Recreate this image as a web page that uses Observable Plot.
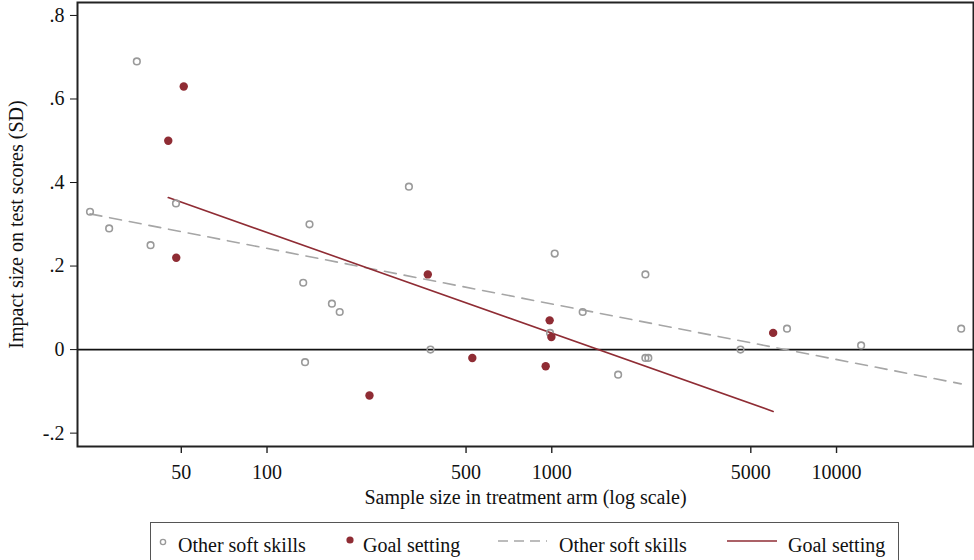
<!DOCTYPE html>
<html>
<head>
<meta charset="utf-8">
<script src="https://cdn.jsdelivr.net/npm/d3@7"></script>
<script src="https://cdn.jsdelivr.net/npm/@observablehq/plot@0.6"></script>
<style>
  body { margin: 0; background: #fff; font-family: "Liberation Serif", serif; }
  #wrap { position: relative; width: 974px; height: 560px; overflow: hidden; }
  #legend { position: absolute; left: 150px; top: 522px; width: 749px; height: 50px;
            border: 1.5px solid #555; box-sizing: border-box; }
  .li { position: absolute; top: 10px; font-size: 20px; line-height: 24px; color: #111; white-space: nowrap; }
  .sw { position: absolute; top: 10px; }
</style>
</head>
<body>
<div id="wrap"></div>
<script>
// Other soft skills: sample size in treatment arm, impact (SD)
const otherN = [23.9, 27.9, 34.9, 39.0, 47.9, 141, 134, 136, 169, 180, 315, 375, 1024, 986, 1284, 2132, 1710, 2132, 2183, 4600, 6700, 12200, 27400];
const otherEffect = [0.33, 0.29, 0.69, 0.25, 0.35, 0.30, 0.16, -0.03, 0.11, 0.09, 0.39, 0.00, 0.23, 0.04, 0.09, 0.18, -0.06, -0.02, -0.02, 0.00, 0.05, 0.01, 0.05];
// Goal setting
const goalN = [51, 45, 48, 367, 229, 526, 952, 983, 997, 5990];
const goalEffect = [0.63, 0.50, 0.22, 0.18, -0.11, -0.02, -0.04, 0.07, 0.03, 0.04];
// Fitted lines (endpoints)
const otherFitN = [23.9, 27400];
const otherFitEffect = [0.325, -0.082];
const goalFitN = [45, 5990];
const goalFitEffect = [0.364, -0.148];
// Ticks
const xTicks = [50, 100, 500, 1000, 5000, 10000];
const xTickLabels = ["50", "100", "500", "1000", "5000", "10000"];
const yTicks = [-0.2, 0, 0.2, 0.4, 0.6, 0.8];
const xTitle = "Sample size in treatment arm (log scale)";
const yTitle = "Impact size on test scores (SD)";

const gray = "#9a9a9a";
const red = "#8f2c34";

const other = otherN.map((n, i) => ({n, e: otherEffect[i]}));
const goal = goalN.map((n, i) => ({n, e: goalEffect[i]}));
const otherFit = otherFitN.map((n, i) => ({n, e: otherFitEffect[i]}));
const goalFit = goalFitN.map((n, i) => ({n, e: goalFitEffect[i]}));
const xTickData = xTicks.map((v, i) => ({v, label: xTickLabels[i]}));

const fmtY = d => d === 0 ? "0" : d.toFixed(1).replace("0.", ".");

const H = 520, MT = 2, MB = 74;
const innerH = H - MT - MB;

const chart = Plot.plot({
  width: 974,
  height: H,
  marginLeft: 77,
  marginRight: 1,
  marginTop: MT,
  marginBottom: MB,
  style: {fontFamily: "Liberation Serif", fontSize: "20px", color: "#111", background: "#fff"},
  x: {type: "log", domain: [21.6, 30270], axis: null},
  y: {domain: [-0.232, 0.831]},
  marks: [
    Plot.ruleY([0], {stroke: "#111", strokeWidth: 1.6}),
    Plot.line(otherFit, {x: "n", y: "e", stroke: "#a6a6a6", strokeWidth: 1.6, strokeDasharray: "12,8"}),
    Plot.line(goalFit, {x: "n", y: "e", stroke: red, strokeWidth: 1.6}),
    Plot.dot(other, {x: "n", y: "e", r: 3.3, stroke: gray, strokeWidth: 1.6, fill: "none"}),
    Plot.dot(goal, {x: "n", y: "e", r: 4.2, fill: red, stroke: "none"}),
    // x axis drawn from the log scale
    Plot.tickX(xTickData, {x: "v", insetTop: innerH, insetBottom: -7, stroke: "#222", strokeWidth: 1.4}),
    Plot.text(xTickData, {x: "v", text: "label", frameAnchor: "bottom", lineAnchor: "top", dy: 18, fill: "#111"}),
    Plot.text([xTitle], {frameAnchor: "bottom", lineAnchor: "top", dy: 43, fill: "#111"}),
    Plot.axisY(yTicks, {tickFormat: fmtY, tickSize: 7, tickPadding: 6,
      label: yTitle, labelAnchor: "center", labelArrow: "none", labelOffset: 69}),
    Plot.frame({stroke: "#222", strokeWidth: 2})
  ]
});
const wrap = document.getElementById("wrap");
wrap.appendChild(chart);

// Legend (below the SVG)
const leg = document.createElement("div");
leg.id = "legend";
leg.innerHTML = `
  <svg class="sw" style="left:6px;top:13px" width="12" height="12"><circle cx="6" cy="6" r="2.6" fill="none" stroke="${gray}" stroke-width="1.4"/></svg>
  <div class="li" style="left:27px">Other soft skills</div>
  <svg class="sw" style="left:193px;top:11px" width="12" height="12"><circle cx="6" cy="6" r="3.6" fill="${red}"/></svg>
  <div class="li" style="left:212px">Goal setting</div>
  <svg class="sw" style="left:346px;top:12px" width="52" height="12"><line x1="1" y1="6" x2="50" y2="6" stroke="#a6a6a6" stroke-width="1.6" stroke-dasharray="10,6"/></svg>
  <div class="li" style="left:408px">Other soft skills</div>
  <svg class="sw" style="left:576px;top:12px" width="52" height="12"><line x1="0" y1="6" x2="50" y2="6" stroke="${red}" stroke-width="1.6"/></svg>
  <div class="li" style="left:637px">Goal setting</div>
`;
wrap.appendChild(leg);
</script>
</body>
</html>
